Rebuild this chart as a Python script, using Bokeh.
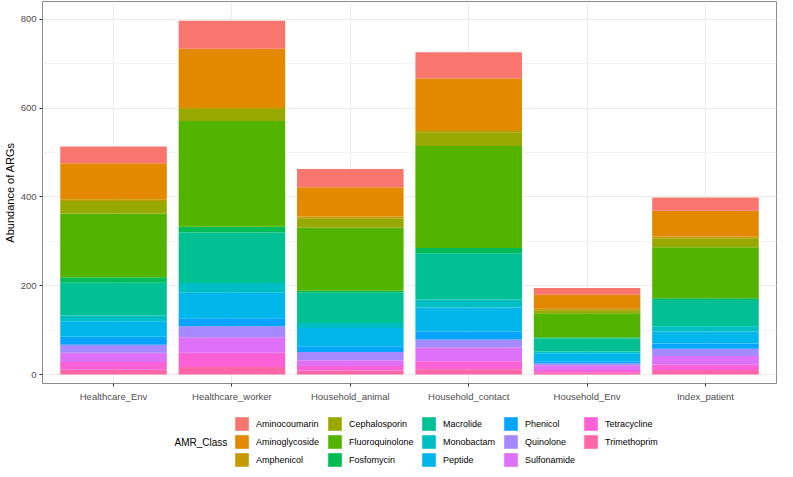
from bokeh.plotting import figure
from bokeh.layouts import column
from bokeh.models import FactorRange, Range1d, Legend, LegendItem, SingleIntervalTicker, ColumnDataSource, Label
from bokeh.embed import file_html
from bokeh.resources import INLINE

samples = ["Healthcare_Env", "Healthcare_worker", "Household_animal",
           "Household_contact", "Household_Env", "Index_patient"]
classes = ["Aminocoumarin", "Aminoglycoside", "Amphenicol", "Cephalosporin",
           "Fluoroquinolone", "Fosfomycin", "Macrolide", "Monobactam", "Peptide",
           "Phenicol", "Quinolone", "Sulfonamide", "Tetracycline", "Trimethoprim"]
colors = ["#F8766D", "#E38900", "#C49A00", "#99A800", "#53B400", "#00BC56",
          "#00C094", "#00BFC4", "#00B6EB", "#06A4FF", "#A58AFF", "#DF70F8",
          "#FB61D7", "#FF66A8"]

Aminocoumarin = [38, 63, 41, 59, 15, 30]
Aminoglycoside = [81, 131, 66, 116, 32, 58]
Amphenicol = [4, 5, 4, 5, 3, 4]
Cephalosporin = [28, 27, 21, 31, 7, 20]
Fluoroquinolone = [144, 238, 142, 230, 54, 115]
Fosfomycin = [12, 13, 5, 12, 3, 4]
Macrolide = [74, 114, 68, 104, 29, 59]
Monobactam = [13, 22, 11, 18, 4, 12]
Peptide = [35, 57, 41, 54, 18, 27]
Phenicol = [18, 18, 13, 18, 5, 12]
Quinolone = [18, 25, 19, 18, 4, 16]
Sulfonamide = [21, 35, 13, 31, 11, 20]
Tetracycline = [17, 32, 10, 18, 6, 12]
Trimethoprim = [11, 17, 9, 12, 4, 10]

values = {
    "Aminocoumarin": Aminocoumarin, "Aminoglycoside": Aminoglycoside,
    "Amphenicol": Amphenicol, "Cephalosporin": Cephalosporin,
    "Fluoroquinolone": Fluoroquinolone, "Fosfomycin": Fosfomycin,
    "Macrolide": Macrolide, "Monobactam": Monobactam, "Peptide": Peptide,
    "Phenicol": Phenicol, "Quinolone": Quinolone, "Sulfonamide": Sulfonamide,
    "Tetracycline": Tetracycline, "Trimethoprim": Trimethoprim,
}

data = {"sample": samples}
data.update(values)
source = ColumnDataSource(data)

FONT = "Liberation Sans"

p = figure(width=777, height=404, output_backend="svg", toolbar_location=None,
           x_range=FactorRange(factors=samples, range_padding=0.1,
                               range_padding_units="absolute"),
           y_range=Range1d(-20.2, 840.4),
           min_border_left=36, min_border_right=1, min_border_top=1,
           min_border_bottom=20)

stack_order = classes[::-1]
stack_colors = colors[::-1]
rends = p.vbar_stack(stack_order, x="sample", width=0.9, color=stack_colors,
                     line_color=None, source=source)

p.background_fill_color = "white"
p.border_fill_color = "white"
p.outline_line_color = "#8c8c8c"
p.outline_line_width = 1

p.yaxis.ticker = SingleIntervalTicker(interval=200, num_minor_ticks=2)
p.yaxis.axis_label = "Abundance of ARGs"
p.yaxis.axis_label_text_font = FONT
p.yaxis.axis_label_text_font_style = "normal"
p.yaxis.axis_label_text_font_size = "11px"
p.yaxis.axis_label_text_color = "black"
p.yaxis.axis_label_standoff = 2

for ax in (p.xaxis, p.yaxis):
    ax.axis_line_color = None
    ax.major_tick_line_color = "#333333"
    ax.major_tick_out = 3
    ax.major_tick_in = 0
    ax.minor_tick_line_color = None
    ax.major_label_text_font = FONT
    ax.major_label_text_font_size = "9.5px"
    ax.major_label_text_color = "#4D4D4D"
    ax.major_label_standoff = 2
p.xaxis.major_label_standoff = 4

p.xgrid.grid_line_color = "#EBEBEB"
p.xgrid.grid_line_width = 1
p.ygrid.grid_line_color = "#EBEBEB"
p.ygrid.grid_line_width = 1
p.ygrid.minor_grid_line_color = "#F3F3F3"
p.ygrid.minor_grid_line_width = 1
p.xgrid.level = "underlay"
p.ygrid.level = "underlay"

# legend strip below the chart (its frame shares the chart's left edge)
q = figure(width=777, height=65, output_backend="svg", toolbar_location=None,
           x_range=Range1d(0, 1), y_range=Range1d(0, 1),
           x_axis_type=None, y_axis_type=None,
           min_border_left=0, min_border_right=0, min_border_top=0,
           min_border_bottom=0)
q.outline_line_color = None
q.background_fill_color = "white"
q.border_fill_color = "white"

# key renderers sit outside the strip's visible range; only their legend swatches show
keys = {}
for c, col in zip(classes, colors):
    keys[c] = q.vbar(x=[-5], top=[-5], bottom=[-6], width=0.5,
                     fill_color=col, line_color=None)

col_x = [191, 284, 378, 460, 540]
nrows = 3
for ci, cx in enumerate(col_x):
    col_classes = classes[ci * nrows:(ci + 1) * nrows]
    items = [LegendItem(label=c, renderers=[keys[c]]) for c in col_classes]
    y_off = 1 + 18 * (nrows - len(col_classes))
    lg = Legend(items=items, orientation="vertical",
                label_text_font=FONT, label_text_font_size="9px",
                label_text_color="black", label_height=17,
                glyph_width=17, glyph_height=17, label_standoff=6,
                spacing=1, padding=0, margin=0,
                border_line_color=None, background_fill_alpha=0,
                location=(cx, y_off))
    q.add_layout(lg)

title = Label(x=132, y=27.5, x_units="screen", y_units="screen",
              text="AMR_Class", text_font=FONT, text_font_size="10px",
              text_color="black", text_baseline="middle", text_align="left")
q.add_layout(title)

layout = column(p, q, spacing=0)
open("out.html", "w").write(file_html(layout, INLINE))
